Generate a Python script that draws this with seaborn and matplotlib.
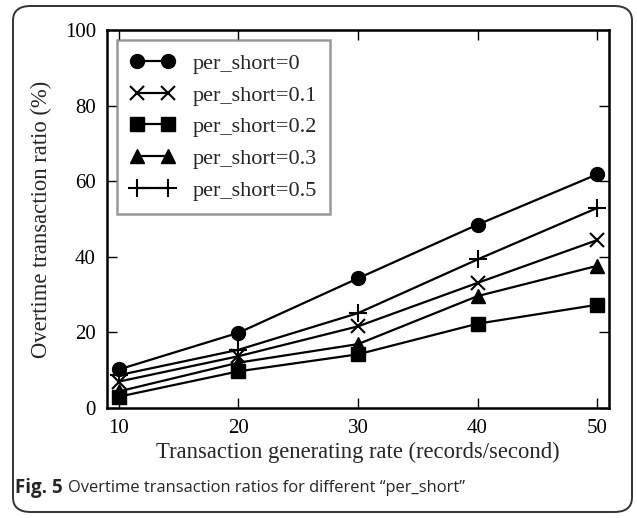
import matplotlib
matplotlib.use('Agg')
import matplotlib.pyplot as plt
from matplotlib.patches import FancyBboxPatch
import seaborn as sns
import pandas as pd

# data
rates = [10, 20, 30, 40, 50]
labels = ['per_short=0', 'per_short=0.1', 'per_short=0.2', 'per_short=0.3', 'per_short=0.5']
ratio_0 = [10.2, 19.9, 34.3, 48.5, 61.8]
ratio_01 = [7.0, 13.7, 21.6, 33.1, 44.4]
ratio_02 = [3.0, 9.7, 14.2, 22.3, 27.3]
ratio_03 = [4.4, 12.0, 16.9, 29.6, 37.6]
ratio_05 = [8.7, 15.4, 25.1, 39.3, 52.9]
markers = ['o', 'x', 's', '^', '+']
msizes = [10, 10, 10, 10, 13]

sns.set_style('ticks')
plt.rcParams['font.family'] = ['Liberation Serif', 'DejaVu Serif']
plt.rcParams['xtick.direction'] = 'in'
plt.rcParams['ytick.direction'] = 'in'

W, H = 637, 518
fig = plt.figure(figsize=(W / 100, H / 100), dpi=100)

# rounded frame around the whole figure
frame = FancyBboxPatch((13 / W, 6 / H), 619 / W, 506 / H,
                       boxstyle='round,pad=0,rounding_size=0.028',
                       transform=fig.transFigure, fill=False,
                       edgecolor='#333333', linewidth=1.4)
fig.patches.append(frame)

ax = fig.add_axes([107 / W, (H - 408) / H, (609 - 107) / W, (408 - 30) / H])

all_series = [ratio_0, ratio_01, ratio_02, ratio_03, ratio_05]
for vals, lab, m, ms in zip(all_series, labels, markers, msizes):
    df = pd.DataFrame({'rate': rates, 'ratio': vals})
    sns.lineplot(data=df, x='rate', y='ratio', ax=ax, color='black',
                 marker=m, markersize=ms, markeredgewidth=1.5 if m in 'x+' else 1,
                 markeredgecolor='black', linewidth=1.6, label=lab)

ax.set_xlim(9, 51)
ax.set_ylim(0, 100)
ax.set_xticks([10, 20, 30, 40, 50])
ax.set_yticks([0, 20, 40, 60, 80, 100])
ax.tick_params(axis='both', which='both', top=True, right=True, labelsize=15,
               length=7, width=1, pad=8, colors='black')
for s in ax.spines.values():
    s.set_linewidth(1.8)
    s.set_color('black')

ax.set_xlabel('Transaction generating rate (records/second)', fontsize=16.3, labelpad=3)
ax.set_ylabel('Overtime transaction ratio (%)', fontsize=16.3, labelpad=9)

leg = ax.legend(loc='upper left', numpoints=2, fontsize=16, frameon=True,
                fancybox=False, borderaxespad=0.45, handlelength=2.0,
                labelspacing=0.5, borderpad=0.6, handletextpad=0.8)
leg.get_frame().set_edgecolor('#808080')
leg.get_frame().set_linewidth(1.8)

fig.text(15 / W, 1 - 488 / H, 'Fig. 5', fontsize=13.5, fontweight='bold',
         family=['Open Sans', 'DejaVu Sans'], va='center', ha='left')
fig.text(68 / W, 1 - 488 / H, 'Overtime transaction ratios for different \u201cper_short\u201d',
         fontsize=11.9, family=['Open Sans', 'DejaVu Sans'], va='center', ha='left')

fig.savefig('out.png', dpi=100)
